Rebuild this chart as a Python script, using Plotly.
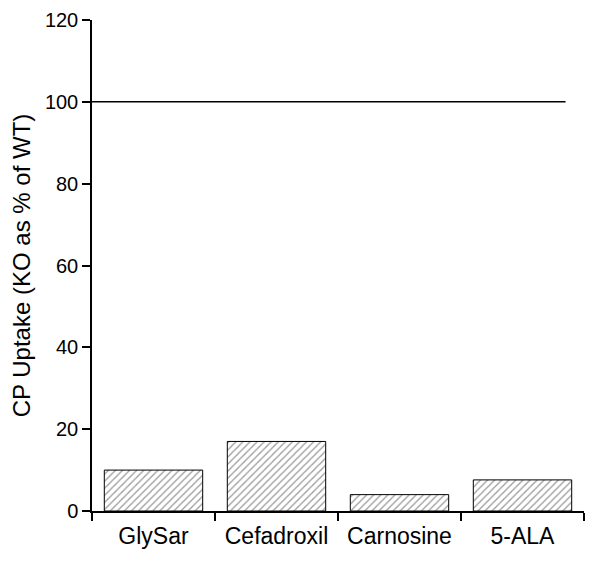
import plotly.graph_objects as go

compounds = ["GlySar", "Cefadroxil", "Carnosine", "5-ALA"]
uptake = [10, 17, 4, 7.6]
wt_level = 100

fig = go.Figure(go.Bar(
    x=compounds,
    y=uptake,
    width=0.8,
    marker=dict(
        color="white",
        line=dict(color="black", width=1),
        pattern=dict(shape="/", fgcolor="#333333", bgcolor="white", size=5, solidity=0.25),
    ),
))

# reference line for WT = 100%
fig.add_shape(type="line", xref="x", yref="y", x0=-0.5, x1=3.35, y0=wt_level, y1=wt_level,
              line=dict(color="black", width=1.5))

# page body adds an 8px margin, so the figure is shifted by that much
fig.update_layout(
    width=592, height=553,
    margin=dict(l=84, r=16, t=12, b=50),
    plot_bgcolor="white", paper_bgcolor="white",
    font=dict(family="Liberation Sans, Arial", color="black"),
    showlegend=False,
)
fig.update_xaxes(
    range=[-0.5, 3.5], automargin=False,
    showline=True, linecolor="black", linewidth=1.5,
    ticks="outside", tickson="boundaries", ticklen=8, tickcolor="black", tickwidth=1.5,
    tickfont=dict(size=23), ticklabelstandoff=4,
    showgrid=False,
)
fig.update_yaxes(
    range=[0, 120], tickvals=[0, 20, 40, 60, 80, 100, 120], automargin=False,
    showline=True, linecolor="black", linewidth=1.5,
    ticks="outside", ticklen=8, tickcolor="black", tickwidth=1.5,
    tickfont=dict(size=20),
    title=dict(text="CP Uptake (KO as % of WT)", font=dict(size=24), standoff=8),
    showgrid=False, zeroline=False,
)

fig.write_html("out.html")
